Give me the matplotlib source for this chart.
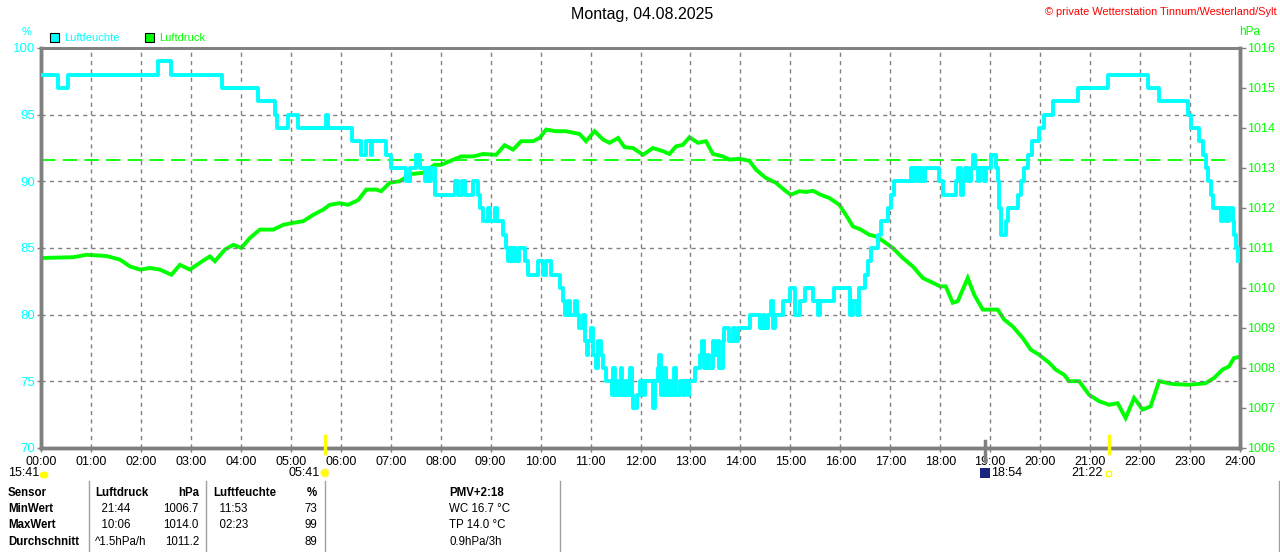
import matplotlib
matplotlib.use("Agg")
import matplotlib.pyplot as plt
from matplotlib.patches import Rectangle, Ellipse
from matplotlib.lines import Line2D

# humidity (%) as step changes: hour, value
hum_t = [0, 0.35, 0.55, 2.35, 2.6, 3.63, 4.35, 4.68, 4.72, 4.95, 5.15, 5.71, 5.75, 6.23, 6.41, 6.5,
         6.6, 6.63, 6.91, 7.01, 7.31, 7.38, 7.51, 7.58, 7.68, 7.72, 7.77, 7.81, 7.88, 8.28, 8.34,
         8.43, 8.49, 8.65, 8.75, 8.78, 8.85, 8.94, 8.98, 9.08, 9.12, 9.25, 9.31, 9.34, 9.38, 9.42,
         9.46, 9.5, 9.56, 9.68, 9.75, 9.94, 10.04, 10.11, 10.21, 10.38, 10.45, 10.48, 10.55, 10.58,
         10.68, 10.72, 10.77, 10.85, 10.88, 10.92, 10.95, 11.0, 11.05, 11.1, 11.15, 11.2, 11.25,
         11.31, 11.42, 11.45, 11.48, 11.52, 11.55, 11.6, 11.63, 11.68, 11.72, 11.78, 11.82, 11.85,
         11.93, 11.98, 12.05, 12.1, 12.25, 12.3, 12.35, 12.38, 12.42, 12.48, 12.52, 12.58, 12.62,
         12.68, 12.72, 12.8, 12.85, 12.9, 12.95, 12.98, 13.1, 13.2, 13.24, 13.28, 13.33, 13.38,
         13.45, 13.5, 13.55, 13.58, 13.65, 13.68, 13.78, 13.85, 13.9, 13.95, 14.2, 14.4, 14.45,
         14.5, 14.55, 14.62, 14.66, 14.7, 14.85, 15.0, 15.1, 15.2, 15.3, 15.45, 15.55, 15.6, 15.88,
         16.2, 16.25, 16.33, 16.38, 16.5, 16.56, 16.61, 16.75, 16.81, 16.95, 17.01, 17.08, 17.41,
         17.45, 17.5, 17.55, 17.6, 17.64, 17.7, 17.97, 18.05, 18.31, 18.35, 18.41, 18.45, 18.5,
         18.55, 18.62, 18.65, 18.7, 18.75, 18.8, 18.88, 18.92, 19.01, 19.11, 19.15, 19.18, 19.21,
         19.31, 19.35, 19.55, 19.61, 19.68, 19.75, 19.83, 19.98, 20.08, 20.25, 20.75, 21.35, 22.15,
         22.38, 22.95, 23.01, 23.18, 23.25, 23.31, 23.35, 23.41, 23.45, 23.61, 23.65, 23.72, 23.78,
         23.85, 23.88, 23.91, 23.96]
hum_v = [98, 97, 98, 99, 98, 97, 96, 95, 94, 95, 94, 95, 94, 93, 92, 93,
         92, 93, 92, 91, 90, 91, 92, 91, 90, 91, 90, 91, 89, 90, 89,
         90, 89, 90, 89, 88, 87, 88, 87, 88, 87, 86, 85, 84, 85, 84,
         85, 84, 85, 84, 83, 84, 83, 84, 83, 82, 81, 80, 81, 80,
         81, 80, 79, 80, 78, 77, 78, 79, 77, 76, 78, 77, 76,
         75, 74, 76, 74, 75, 74, 76, 74, 75, 74, 76, 74, 73,
         74, 75, 74, 75, 73, 75, 76, 77, 74, 76, 74, 75, 74,
         76, 74, 75, 74, 75, 74, 75, 76, 77, 78, 76, 77, 76,
         78, 77, 78, 76, 78, 79, 78, 79, 78, 79, 80, 79, 80,
         79, 80, 81, 79, 80, 81, 82, 80, 81, 82, 81, 80, 81, 82,
         80, 81, 80, 82, 83, 84, 85, 86, 87, 88, 89, 90, 91,
         90, 91, 90, 91, 90, 91, 90, 89, 90, 91, 89, 90, 91,
         90, 91, 92, 91, 90, 91, 90, 91, 92, 91, 90, 88, 86,
         87, 88, 89, 90, 91, 92, 93, 94, 95, 96, 97, 98, 97,
         96, 95, 94, 93, 92, 91, 90, 89, 88, 87, 88, 87, 88,
         87, 86, 85, 84]

# pressure (hPa): hour, value
pres_t = [0, 0.65, 0.91, 1.31, 1.58, 1.78, 1.98, 2.18, 2.38, 2.61, 2.78, 2.98, 3.18, 3.38, 3.48,
          3.68, 3.85, 4.01, 4.18, 4.38, 4.65, 4.85, 5.05, 5.25, 5.45, 5.65, 5.78, 5.98, 6.15,
          6.35, 6.51, 6.71, 6.81, 6.98, 7.18, 7.41, 7.65, 7.88, 8.01, 8.18, 8.41, 8.65, 8.85,
          9.11, 9.28, 9.45, 9.61, 9.85, 9.98, 10.11, 10.31, 10.51, 10.78, 10.91, 11.08, 11.25,
          11.38, 11.55, 11.68, 11.85, 12.05, 12.25, 12.45, 12.58, 12.71, 12.85, 12.98, 13.15,
          13.31, 13.45, 13.65, 13.78, 13.98, 14.18, 14.31, 14.51, 14.71, 14.91, 15.01, 15.18,
          15.31, 15.45, 15.61, 15.78, 15.98, 16.15, 16.25, 16.41, 16.58, 16.71, 16.85, 17.05,
          17.25, 17.45, 17.65, 17.85, 18.0, 18.11, 18.25, 18.35, 18.55, 18.68, 18.85, 19.15,
          19.28, 19.45, 19.65, 19.81, 19.98, 20.18, 20.31, 20.48, 20.58, 20.78, 20.98, 21.18,
          21.38, 21.55, 21.71, 21.88, 22.05, 22.21, 22.38, 22.65, 22.98, 23.31, 23.48, 23.65,
          23.78, 23.88, 23.96]
pres_v = [1010.75, 1010.77, 1010.83, 1010.8, 1010.71, 1010.54, 1010.46, 1010.5, 1010.46, 1010.33,
          1010.58, 1010.46, 1010.63, 1010.79, 1010.67, 1010.96, 1011.08, 1011.0, 1011.25, 1011.46,
          1011.46, 1011.58, 1011.63, 1011.67, 1011.83, 1011.96, 1012.08, 1012.12, 1012.08,
          1012.2, 1012.46, 1012.46, 1012.42, 1012.63, 1012.67, 1012.85, 1012.88, 1013.08, 1013.08,
          1013.17, 1013.29, 1013.29, 1013.35, 1013.33, 1013.57, 1013.46, 1013.67, 1013.67,
          1013.75, 1013.96, 1013.92, 1013.92, 1013.85, 1013.67, 1013.92, 1013.71, 1013.63,
          1013.75, 1013.52, 1013.5, 1013.33, 1013.5, 1013.42, 1013.35, 1013.54, 1013.58, 1013.77,
          1013.63, 1013.67, 1013.35, 1013.29, 1013.21, 1013.23, 1013.18, 1012.96, 1012.75,
          1012.63, 1012.42, 1012.33, 1012.42, 1012.4, 1012.43, 1012.33, 1012.25, 1012.08, 1011.75,
          1011.54, 1011.46, 1011.33, 1011.29, 1011.18, 1011.0, 1010.75, 1010.54, 1010.25, 1010.13,
          1010.04, 1010.04, 1009.63, 1009.67, 1010.25, 1009.83, 1009.46, 1009.46, 1009.21,
          1009.04, 1008.75, 1008.46, 1008.33, 1008.13, 1007.96, 1007.83, 1007.67, 1007.67,
          1007.33, 1007.17, 1007.08, 1007.12, 1006.75, 1007.25, 1006.96, 1007.04, 1007.67, 1007.6,
          1007.58, 1007.62, 1007.75, 1007.96, 1008.04, 1008.25, 1008.27]
pres_ref = 1013.2

hour_labels = ["%02d:00" % h for h in range(25)]
hum_ticks = [70, 75, 80, 85, 90, 95, 100]
pres_ticks = list(range(1006, 1017))

title = "Montag, 04.08.2025"
credit = "\u00a9 private Wetterstation Tinnum/Westerland/Sylt"

moonset = "15:41"
sun_events = [(5.68, "05:41"), (21.37, "21:22")]
moon_event = (18.9, "18:54")

table_head = ["Sensor", "Luftdruck", "hPa", "Luftfeuchte", "%", "PMV+2:18"]
row_names = ["MinWert", "MaxWert", "Durchschnitt"]
pres_when = ["  21:44", "  10:06", "^1.5hPa/h"]
pres_vals = ["1006.7", "1014.0", "1011.2"]
hum_when = ["  11:53", "  02:23", ""]
hum_vals = ["73", "99", "89"]
extra = ["WC 16.7 \u00b0C", "TP 14.0 \u00b0C", "0.9hPa/3h"]

CYAN = "#00ffff"
GREEN = "#00ff00"
GRAY = "#808080"
W, H = 1280, 552

plt.rcParams['font.family'] = ['Liberation Sans', 'DejaVu Sans']


def fx(x):
    return x / W


def fy(y):
    return 1 - y / H


fig = plt.figure(figsize=(12.8, 5.52), dpi=100)
ax = fig.add_axes([fx(41), fy(448), (1240 - 41) / W, 400 / H])
ax2 = ax.twinx()

ax.set_xlim(0, 24)
ax.set_ylim(70, 100)
ax2.set_ylim(1006, 1016)

ax.set_xticks(range(25))
ax.set_xticklabels(hour_labels, fontsize=9, color="black")
ax.set_yticks(hum_ticks)
ax.set_yticklabels([str(v) for v in hum_ticks], fontsize=9.5, color=CYAN)
ax2.set_yticks(pres_ticks)
ax2.set_yticklabels([str(v) for v in pres_ticks], fontsize=9, color=GREEN)

ax.tick_params(axis='x', length=3, width=1, color=GRAY, pad=3)
ax.tick_params(axis='y', length=3, width=1, color=GRAY, pad=1.5)
ax2.tick_params(axis='y', length=4, width=1, color=GRAY, pad=1)

ax.grid(True, color=GRAY, linestyle=(0, (3, 3)), linewidth=1)
for a in (ax, ax2):
    for side, sp in a.spines.items():
        sp.set_color(GRAY)
        sp.set_linewidth(2.5 if side != "top" else 2)

ax2.axhline(pres_ref, color=GREEN, linestyle=(0, (8, 4)), linewidth=1.3, xmax=0.992)
ax2.plot(pres_t, pres_v, color=GREEN, linewidth=2.8, solid_joinstyle='miter')
ax.step(hum_t, hum_v, where='post', color=CYAN, linewidth=2.8, zorder=5)
ax.set_zorder(ax2.get_zorder() + 1)
ax.patch.set_visible(False)

# sunrise / sunset / moon marks on x axis
for h, _ in sun_events:
    ax.plot([h, h], [69.6, 70.9], color="#ffff00", linewidth=2.5, clip_on=False, zorder=6)
ax.plot([moon_event[0], moon_event[0]], [69.0, 70.5], color=GRAY, linewidth=2.5,
        clip_on=False, zorder=6)

# titles and units
fig.text(fx(642), fy(15), title, ha="center", va="center", fontsize=11.5)
fig.text(fx(1277), fy(12), credit, ha="right", va="center", fontsize=7.9, color="red")
fig.text(fx(27), fy(32), "%", ha="center", va="center", fontsize=8, color=CYAN)
fig.text(fx(1250), fy(32), "hPa", ha="center", va="center", fontsize=8.5, color=GREEN)

# legend
for x0, col, lab in [(50, CYAN, "Luftfeuchte"), (145, GREEN, "Luftdruck")]:
    fig.patches.append(Rectangle((fx(x0), fy(42)), 9 / W, 9 / H, transform=fig.transFigure,
                                 facecolor=col, edgecolor="black", linewidth=0.8))
    fig.text(fx(x0 + 14), fy(38), lab, ha="left", va="center", fontsize=8, color=col)

# sun and moon times under the axis
fig.text(fx(8), fy(473), moonset, ha="left", va="center", fontsize=9)
fig.patches.append(Ellipse((fx(44), fy(475)), 9 / W, 7 / H, transform=fig.transFigure,
                           facecolor="#ffff00", edgecolor="none"))
fig.text(fx(320), fy(473), sun_events[0][1], ha="right", va="center", fontsize=9)
fig.patches.append(Ellipse((fx(325), fy(473)), 8 / W, 8 / H, transform=fig.transFigure,
                           facecolor="#ffff00", edgecolor="#fff27a", linewidth=1))
fig.patches.append(Rectangle((fx(980), fy(478)), 10 / W, 10 / H, transform=fig.transFigure,
                             facecolor="#1a237e", edgecolor="none"))
fig.text(fx(991), fy(473), moon_event[1], ha="left", va="center", fontsize=9)
fig.text(fx(1103), fy(473), sun_events[1][1], ha="right", va="center", fontsize=9)
fig.patches.append(Rectangle((fx(1106), fy(476)), 5 / W, 5 / H, transform=fig.transFigure,
                             facecolor="none", edgecolor="#ffff00", linewidth=1))

# info table
for xs in [89, 206, 325, 560, 1279]:
    fig.lines.append(Line2D([fx(xs), fx(xs)], [fy(481), fy(552)], transform=fig.transFigure,
                            color="#a0a0a0", linewidth=1))

fs = 8.3
row_y = [493, 509, 525, 542]
fig.text(fx(8), fy(row_y[0]), table_head[0], fontsize=fs, weight="bold", va="center")
fig.text(fx(95), fy(row_y[0]), table_head[1], fontsize=fs, weight="bold", va="center")
fig.text(fx(199), fy(row_y[0]), table_head[2], fontsize=fs, weight="bold", va="center", ha="right")
fig.text(fx(213), fy(row_y[0]), table_head[3], fontsize=fs, weight="bold", va="center")
fig.text(fx(317), fy(row_y[0]), table_head[4], fontsize=fs, weight="bold", va="center", ha="right")
fig.text(fx(449), fy(row_y[0]), table_head[5], fontsize=fs, weight="bold", va="center")
for i, name in enumerate(row_names):
    y = fy(row_y[i + 1])
    fig.text(fx(8), y, name, fontsize=fs, weight="bold", va="center")
    fig.text(fx(95), y, pres_when[i], fontsize=fs, va="center")
    fig.text(fx(199), y, pres_vals[i], fontsize=fs, va="center", ha="right")
    fig.text(fx(213), y, hum_when[i], fontsize=fs, va="center")
    fig.text(fx(317), y, hum_vals[i], fontsize=fs, va="center", ha="right")
    fig.text(fx(449), y, extra[i], fontsize=fs, va="center")

fig.savefig("out.png", dpi=100)
